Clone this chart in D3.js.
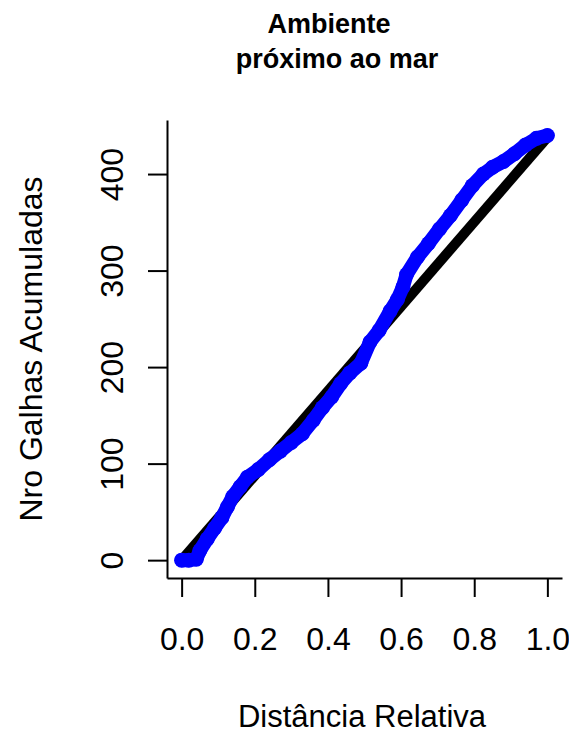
<!DOCTYPE html>
<html>
<head>
<meta charset="utf-8">
<script src="https://cdn.jsdelivr.net/npm/d3@7"></script>
<style>
  body { margin: 0; background: #fff; }
  text { font-family: "Liberation Sans", Arial, sans-serif; fill: #000; }
</style>
</head>
<body>
<div id="chart"></div>
<script>
// values
var distancia = [0, 0.02, 0.04, 0.05, 0.07, 0.09, 0.11, 0.125, 0.14, 0.16, 0.18, 0.21, 0.24, 0.27, 0.3,
  0.33, 0.36, 0.385, 0.41, 0.435, 0.46, 0.49, 0.515, 0.54, 0.57, 0.59, 0.605, 0.615, 0.645, 0.675,
  0.705, 0.735, 0.766, 0.795, 0.825, 0.85, 0.88, 0.91, 0.94, 0.97, 1.0];
var galhas = [0, 0, 1, 10, 22, 33, 44, 55, 66, 76, 86, 94, 104, 113, 122,
  131, 145, 158, 169, 183, 194, 204, 226, 238, 258, 270, 283, 296, 314, 328,
  343, 357, 373, 388, 400, 407, 413, 421, 430, 437, 440];
// reference line (uniform accumulation)
var refX = [0, 1];
var refY = [0, 438];

var xTicks = [0, 0.2, 0.4, 0.6, 0.8, 1.0];
var yTicks = [0, 100, 200, 300, 400];

var width = 569, height = 734;

var svg = d3.select("#chart")
  .append("svg")
    .attr("width", width)
    .attr("height", height);

// plot region, R style 4% extension
var x = d3.scaleLinear().domain([-0.04, 1.04]).range([167, 562]);
var y = d3.scaleLinear().domain([-18.5, 456]).range([578, 120]);

// title (two lines)
svg.append("text")
  .attr("x", 329).attr("y", 33)
  .attr("text-anchor", "middle")
  .style("font-size", "27px").style("font-weight", "bold")
  .text("Ambiente");
svg.append("text")
  .attr("x", 337).attr("y", 68)
  .attr("text-anchor", "middle")
  .style("font-size", "27px").style("font-weight", "bold")
  .text("próximo ao mar");

// axes (the domain lines make the L shaped box)
var xAxis = svg.append("g")
  .attr("transform", "translate(0,578)")
  .call(d3.axisBottom(x).tickValues(xTicks).tickSize(19).tickSizeOuter(0).tickFormat(d3.format(".1f")));
xAxis.selectAll("path, line").attr("stroke", "#000").attr("stroke-width", 2);
xAxis.selectAll("text")
  .attr("y", 72).attr("dy", 0)
  .style("font-size", "32px").style("font-family", "Liberation Sans, Arial, sans-serif");

var yAxis = svg.append("g")
  .attr("transform", "translate(167,0)")
  .call(d3.axisLeft(y).tickValues(yTicks).tickSize(19).tickSizeOuter(0));
yAxis.selectAll("path, line").attr("stroke", "#000").attr("stroke-width", 2);
yAxis.selectAll("text")
  .attr("x", 0).attr("dy", 0)
  .attr("transform", "translate(-44,0) rotate(-90)")
  .attr("text-anchor", "middle")
  .style("font-size", "32px").style("font-family", "Liberation Sans, Arial, sans-serif");

// axis titles
svg.append("text")
  .attr("x", 362).attr("y", 727)
  .attr("text-anchor", "middle")
  .style("font-size", "31px")
  .text("Distância Relativa");
svg.append("text")
  .attr("transform", "translate(42,349) rotate(-90)")
  .attr("text-anchor", "middle")
  .style("font-size", "32px")
  .text("Nro Galhas Acumuladas");

// black reference line
var refData = refX.map(function(d, i) { return [d, refY[i]]; });
svg.append("path")
  .datum(refData)
  .attr("d", d3.line().x(function(d) { return x(d[0]); }).y(function(d) { return y(d[1]); }))
  .attr("fill", "none")
  .attr("stroke", "#000")
  .attr("stroke-width", 10);

// blue observed points
var obs = distancia.map(function(d, i) { return [d, galhas[i]]; });
svg.append("path")
  .datum(obs)
  .attr("d", d3.line().x(function(d) { return x(d[0]); }).y(function(d) { return y(d[1]); }))
  .attr("fill", "none")
  .attr("stroke", "#0000ff")
  .attr("stroke-width", 14)
  .attr("stroke-linejoin", "round")
  .attr("stroke-linecap", "round");

svg.selectAll("circle.obs")
  .data(obs)
  .enter()
  .append("circle")
    .attr("class", "obs")
    .attr("cx", function(d) { return x(d[0]); })
    .attr("cy", function(d) { return y(d[1]); })
    .attr("r", 7.5)
    .attr("fill", "#0000ff");
</script>
</body>
</html>
